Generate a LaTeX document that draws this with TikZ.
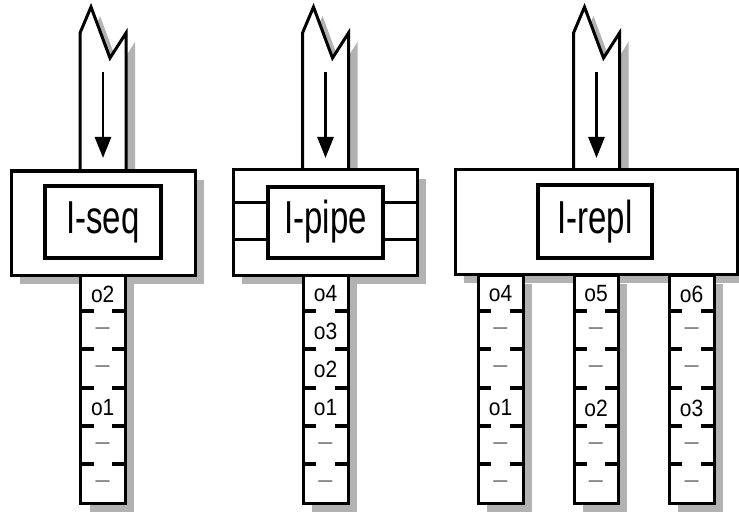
\documentclass[tikz,border=0pt]{standalone}
\usepackage{fontspec}
\usepackage{graphicx}
\setmainfont{Liberation Sans}
\usetikzlibrary{arrows.meta}
\newcommand\dd{{\color{black!55}\scalebox{1.2}[1]{--}}}
\newcommand\myshaft[2]{%
  \fill[shadowc] ({#1+9},180) -- ({#1+9},42) -- ({#1+20},16) -- ({#1+39},67) -- ({#1+55},42) -- ({#1+55},180) -- cycle;
  \draw[edge] (#1,171) -- (#1,33) -- ({#1+11},7) -- ({#1+30},58) -- ({#1+46},33) -- ({#1+46},171);
  \coordinate (#2s) at ({#1+23},72);
  \coordinate (#2e) at ({#1+23},158);
  \draw[flow] (#2s) -- (#2e);
}
\newcommand\mycol[4]{%
  \fill[shadowc] ({#1+9},284) rectangle ({#2+9},512);
  \draw[edge] (#1,275) rectangle (#2,503);
  \foreach \ty in {311,349,388,426,464}{
    \draw[tick] (#1,\ty) -- ({#1+13},\ty);
    \draw[tick] ({#2-13},\ty) -- (#2,\ty);
  }
  \foreach \lab [count=\i] in {#4}{
    \pgfmathsetmacro{\cy}{{294,331,369.5,408,446,484.5}[\i-1]}
    \node[smalll] (#3\i) at ({(#1+#2)/2},\cy) {\scalebox{1}[1.12]{\lab}};
  }
}
\begin{document}
\begin{tikzpicture}[x=1pt,y=-1pt,
  shadowc/.style={fill=black!30, draw=none},
  edge/.style={draw=black, line width=3pt, fill=white, line join=miter},
  tick/.style={line width=3.2pt},
  inbox/.style={draw=black, line width=3.3pt, fill=white},
  bigl/.style={font=\fontsize{33}{33}\selectfont, inner sep=0pt},
  smalll/.style={font=\fontsize{21}{21}\selectfont, inner sep=0pt},
  flow/.style={line width=2.6pt, -{Triangle[length=21pt,width=16pt]}}]
\useasboundingbox (0,0) rectangle (739,516);
% ---------------- panel 1: I-seq
\myshaft{80}{a}
\fill[shadowc] (20,180) rectangle (204,284);
\mycol{80.5}{125}{c}{o2,\dd,\dd,o1,\dd,\dd}
\draw[edge] (11,171) rectangle (195,275);
\draw[inbox] (45,186) rectangle (161,258);
\node[bigl] (seq) at (103,222) {\scalebox{1}[1.4]{I-seq}};
% ---------------- panel 2: I-pipe
\myshaft{302.5}{b}
\fill[shadowc] (242,179) rectangle (426,284);
\mycol{303}{348}{d}{o4,o3,o2,o1,\dd,\dd}
\draw[edge] (233,170) rectangle (417,275);
\draw[line width=3pt] (233,202) -- (268,202) (233,239) -- (268,239);
\draw[line width=3pt] (383,202) -- (417,202) (383,239) -- (417,239);
\draw[inbox] (268,187) rectangle (383,258);
\node[bigl] (pipe) at (325.5,222) {\scalebox{1}[1.4]{I-pipe}};
% ---------------- panel 3: I-repl
\myshaft{573.5}{r}
\fill[shadowc] (464,179) rectangle (746,283);
\mycol{478}{523}{e}{o4,\dd,\dd,o1,\dd,\dd}
\mycol{574}{618}{f}{o5,\dd,\dd,o2,\dd,\dd}
\mycol{669}{714}{g}{o6,\dd,\dd,o3,\dd,\dd}
\draw[edge] (455,170) rectangle (737,274);
\draw[inbox] (538,185) rectangle (652,258);
\node[bigl] (repl) at (595,222) {\scalebox{1}[1.4]{I-repl}};
\end{tikzpicture}
\end{document}
